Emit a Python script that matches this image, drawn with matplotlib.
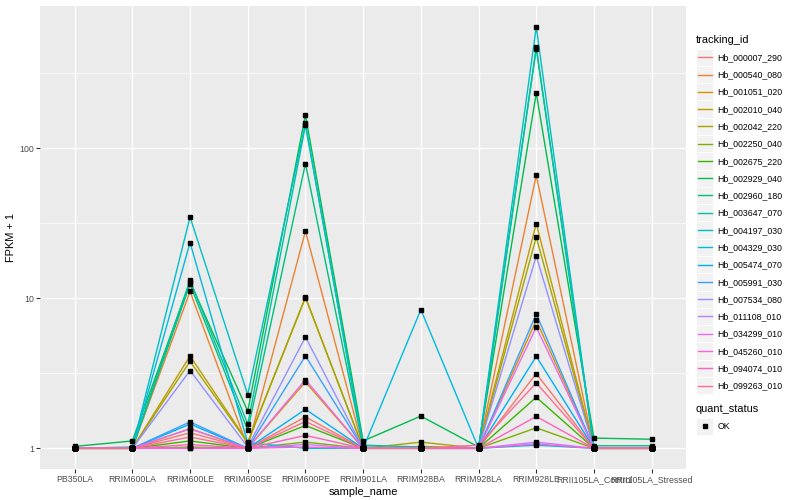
#!/usr/bin/env python
# coding=utf-8
"""
Line chart of FPKM + 1 per sample for a set of transcripts (ggplot look)
"""

import numpy as np
import matplotlib
matplotlib.use('Agg')
import matplotlib.pyplot as plt
from matplotlib.lines import Line2D
from matplotlib.patches import Rectangle
from matplotlib.legend_handler import HandlerBase

plt.rcParams['font.family'] = ['Liberation Sans', 'DejaVu Sans']

samples = ['PB350LA', 'RRIM600LA', 'RRIM600LE', 'RRIM600SE', 'RRIM600PE',
           'RRIM901LA', 'RRIM928BA', 'RRIM928LA', 'RRIM928LE',
           'RRII105LA_Control', 'RRII105LA_Stressed']

tracking_ids = ['Hb_000007_290', 'Hb_000540_080', 'Hb_001051_020',
                'Hb_002010_040', 'Hb_002042_220', 'Hb_002250_040',
                'Hb_002675_220', 'Hb_002929_040', 'Hb_002960_180',
                'Hb_003647_070', 'Hb_004197_030', 'Hb_004329_030',
                'Hb_005474_070', 'Hb_005991_030', 'Hb_007534_080',
                'Hb_011108_010', 'Hb_034299_010', 'Hb_045260_010',
                'Hb_094074_010', 'Hb_099263_010']

# ggplot hue palette, 20 levels
colors = ['#F8766D', '#EA8331', '#D89000', '#C09B00', '#A3A500', '#7CAE00',
          '#39B600', '#00BB4E', '#00BF7D', '#00C1A3', '#00BFC4', '#00BAE0',
          '#00B0F6', '#35A2FF', '#9590FF', '#C77CFF', '#E76BF3', '#FA62DB',
          '#FF62BC', '#FF6C91']

# FPKM + 1, one row per tracking_id, one column per sample
fpkm = [
    [1.00, 1.00, 1.27, 1.00, 1.62, 1.00, 1.00, 1.00, 3.15, 1.00, 1.00],
    [1.00, 1.00, 11.1, 1.02, 28.0, 1.00, 1.00, 1.00, 66.0, 1.00, 1.00],
    [1.00, 1.00, 1.35, 1.00, 2.77, 1.00, 1.02, 1.00, 7.13, 1.00, 1.00],
    [1.00, 1.00, 4.13, 1.10, 10.2, 1.00, 1.03, 1.00, 31.5, 1.00, 1.00],
    [1.00, 1.00, 3.80, 1.09, 10.1, 1.00, 1.10, 1.00, 25.6, 1.00, 1.00],
    [1.00, 1.00, 1.02, 1.00, 1.10, 1.00, 1.00, 1.00, 1.37, 1.00, 1.00],
    [1.00, 1.00, 1.12, 1.00, 1.42, 1.00, 1.00, 1.00, 2.19, 1.00, 1.00],
    [1.03, 1.12, 12.9, 1.77, 167., 1.12, 1.64, 1.02, 233., 1.17, 1.15],
    [1.00, 1.00, 12.4, 1.32, 79.0, 1.02, 1.00, 1.00, 471., 1.04, 1.04],
    [1.00, 1.02, 13.2, 1.45, 142., 1.05, 1.02, 1.00, 462., 1.00, 1.00],
    [1.00, 1.00, 34.8, 2.28, 147., 1.00, 1.00, 1.00, 644., 1.00, 1.00],
    [1.00, 1.00, 23.5, 1.09, 1.00, 1.00, 8.40, 1.00, 1.05, 1.00, 1.00],
    [1.00, 1.00, 1.45, 1.00, 1.82, 1.00, 1.00, 1.00, 4.10, 1.00, 1.00],
    [1.00, 1.00, 1.50, 1.00, 4.13, 1.00, 1.00, 1.00, 7.86, 1.00, 1.00],
    [1.00, 1.00, 3.30, 1.02, 5.52, 1.00, 1.00, 1.00, 19.1, 1.00, 1.00],
    [1.00, 1.00, 1.00, 1.00, 1.06, 1.00, 1.00, 1.00, 1.10, 1.00, 1.00],
    [1.00, 1.00, 1.35, 1.00, 2.87, 1.00, 1.00, 1.00, 6.41, 1.00, 1.00],
    [1.00, 1.00, 1.00, 1.00, 1.02, 1.00, 1.00, 1.00, 1.07, 1.00, 1.00],
    [1.00, 1.00, 1.06, 1.00, 1.22, 1.00, 1.00, 1.00, 1.63, 1.00, 1.00],
    [1.00, 1.00, 1.19, 1.00, 1.51, 1.00, 1.00, 1.05, 2.73, 1.00, 1.00],
]

quant_status = ['OK']


class KeyHandler(HandlerBase):
    """ggplot-like legend key: grey box with a line or point on it"""

    def __init__(self, kind):
        HandlerBase.__init__(self)
        self.kind = kind

    def create_artists(self, legend, orig_handle, xdescent, ydescent,
                       width, height, fontsize, trans):
        # stretch the grey box over the label spacing so keys touch
        extra = legend.labelspacing * fontsize / 2.0
        bg = Rectangle((-xdescent, -ydescent - extra), width,
                       height + 2 * extra,
                       facecolor='#F2F2F2', edgecolor='white', lw=0.6,
                       transform=trans)
        yc = -ydescent + height / 2.0
        if self.kind == 'line':
            mark = Line2D([-xdescent + width * 0.1, -xdescent + width * 0.9],
                          [yc, yc], color=orig_handle.get_color(), lw=1.0,
                          transform=trans)
        else:
            mark = Line2D([-xdescent + width / 2.0], [yc], marker='s',
                          ms=2.2, color='black', ls='none', transform=trans)
        return [bg, mark]


fig = plt.figure(figsize=(8, 5), dpi=100)
ax = fig.add_axes([40 / 800., 1 - 469.4 / 500., 646.3 / 800., 463.6 / 500.])
ax.set_facecolor('#EBEBEB')

x = np.arange(len(samples))
data = np.array(fpkm)

line_handles = []
for i, tid in enumerate(tracking_ids):
    h, = ax.plot(x, data[i], color=colors[i], lw=1.0, label=tid, zorder=2)
    line_handles.append(h)
for i in range(len(tracking_ids)):
    ax.plot(x, data[i], ls='none', marker='s', ms=2.2, color='black',
            zorder=3)

ax.set_yscale('log')
lo, hi = np.log10(data.min()), np.log10(data.max())
pad = 0.05 * (hi - lo)
ax.set_ylim(10 ** (lo - pad), 10 ** (hi + pad))
ax.set_xlim(-0.6, len(samples) - 0.4)

ax.set_yticks([1, 10, 100])
ax.set_yticklabels(['1', '10', '100'])
ax.set_yticks([10 ** 0.5, 10 ** 1.5, 10 ** 2.5], minor=True)
ax.yaxis.set_minor_formatter(plt.NullFormatter())
ax.set_xticks(x)
ax.set_xticklabels(samples)

ax.grid(which='major', color='white', lw=1.0)
ax.grid(which='minor', axis='y', color='white', lw=0.5)
ax.set_axisbelow(True)
for s in ax.spines.values():
    s.set_visible(False)
ax.tick_params(which='major', length=2.7, width=0.8, color='#333333',
               labelsize=6.3, labelcolor='#4D4D4D', pad=1.6)
ax.tick_params(which='minor', length=0)

ax.set_xlabel('sample_name', fontsize=7.9, labelpad=2)
ax.set_ylabel('FPKM + 1', fontsize=7.9, labelpad=2)

leg_kw = dict(loc='upper left', frameon=False, fontsize=6.3,
              title_fontsize=7.9, alignment='left', borderpad=0,
              borderaxespad=0, labelspacing=0.82, handlelength=1.975,
              handleheight=1.4, handletextpad=0.45)

leg1 = fig.legend(handles=line_handles, labels=tracking_ids,
                  handler_map={Line2D: KeyHandler('line')},
                  bbox_to_anchor=(696 / 800., 1 - 35 / 500.),
                  title='tracking_id', **leg_kw)

ok_handle = Line2D([], [], ls='none', marker='s', color='black')
leg2 = fig.legend(handles=[ok_handle], labels=quant_status,
                  handler_map={Line2D: KeyHandler('point')},
                  bbox_to_anchor=(696 / 800., 1 - 404 / 500.),
                  title='quant_status', **leg_kw)

fig.savefig('out.png', dpi=100)
plt.close()
